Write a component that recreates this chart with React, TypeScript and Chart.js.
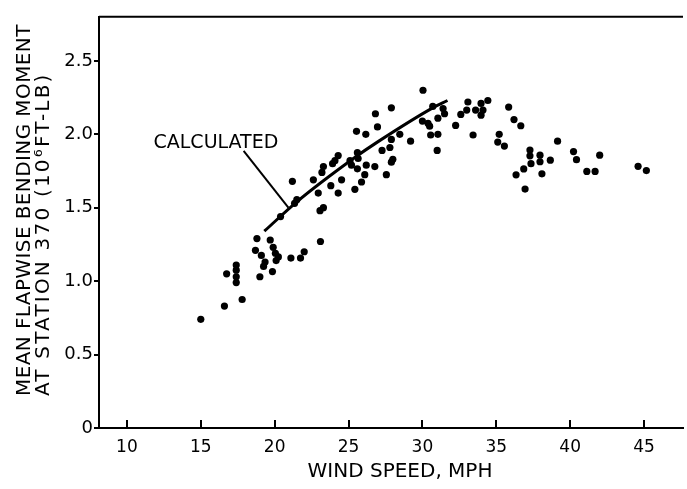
import React, { useEffect, useRef } from "react";
import { Chart, registerables } from "chart.js";

Chart.register(...registerables);

// ---- data ----
const xTicks = [10, 15, 20, 25, 30, 35, 40, 45];
const yTicks = [0, 0.5, 1, 1.5, 2, 2.5];
const yTickLabels = ["0", "0.5", "1.0", "1.5", "2.0", "2.5"];

const measuredWind = [
  15.0, 16.6, 17.8, 16.75, 17.4, 17.4, 17.4, 17.4, 18.8, 19.7, 18.7, 19.1, 19.35, 19.25, 19.0, 19.9,
  20.05, 20.25, 20.1, 19.85, 21.1, 21.75, 22.0, 23.1, 23.07, 23.3, 20.4, 21.35, 21.5, 21.2, 22.62,
  22.95, 23.2, 23.3, 23.8, 24.3, 23.92, 24.08, 24.3, 24.53, 25.1, 25.2, 25.6, 25.43, 25.6, 25.65,
  25.88, 26.1, 26.2, 26.78, 27.56, 27.27, 28.0, 27.9, 27.9, 27.8, 25.54, 26.17, 26.82, 26.96, 27.9,
  28.47, 29.2, 30.04, 30.0, 30.38, 30.49, 30.56, 31.05, 31.0, 30.7, 31.4, 31.5, 31.05, 32.25, 32.6,
  33.0, 33.08, 33.6, 33.97, 34.43, 34.1, 33.97, 33.43, 35.84, 36.2, 36.66, 35.2, 35.1, 35.55, 39.15,
  37.28, 37.28, 37.96, 37.96, 37.35, 36.86, 36.34, 36.95, 38.09, 38.66, 40.23, 40.43, 42.0, 41.13,
  41.69, 44.6, 45.16,
];
const measuredMoment = [
  0.74, 0.83, 0.875, 1.05, 1.11, 1.075, 1.03, 0.99, 1.29, 1.28, 1.21, 1.175, 1.13, 1.1, 1.03, 1.23,
  1.19, 1.165, 1.14, 1.065, 1.157, 1.157, 1.2, 1.27, 1.48, 1.5, 1.44, 1.53, 1.555, 1.68, 1.69,
  1.6, 1.74, 1.78, 1.65, 1.6, 1.8, 1.82, 1.855, 1.69, 1.82, 1.79, 1.765, 1.625, 1.875, 1.835,
  1.675, 1.725, 1.79, 1.78, 1.725, 1.89, 1.83, 1.81, 1.965, 1.91, 2.02, 2.0, 2.14, 2.05, 2.18,
  2.0, 1.953, 2.3, 2.09, 2.075, 2.055, 1.995, 2.0, 1.89, 2.19, 2.175, 2.14, 2.11, 2.06, 2.135,
  2.165, 2.22, 2.165, 2.21, 2.23, 2.165, 2.13, 1.995, 2.185, 2.1, 2.058, 2.0, 1.947, 1.92, 1.953,
  1.893, 1.853, 1.858, 1.813, 1.8, 1.764, 1.724, 1.627, 1.731, 1.824, 1.882, 1.827, 1.858, 1.747,
  1.747, 1.782, 1.753,
];

const calcWind = [19.3, 21.5, 25.4, 27.0, 30.7, 31.7];
const calcMoment = [1.34, 1.54, 1.84, 1.95, 2.18, 2.23];

const xTitle = "WIND SPEED, MPH";
const yTitleLines = ["MEAN FLAPWISE BENDING MOMENT", "AT STATION 370 (10\u2076FT-LB)"];
const calcLabel = "CALCULATED";
const calcLabelAt = [11.8, 1.907];
const leaderFrom = [17.9, 1.887];
const leaderTo = [20.93, 1.5];

const FONT = "'DejaVu Sans', sans-serif";

const decorPlugin = {
  id: "decor",
  afterDraw(chart: any) {
    const { ctx, chartArea, scales } = chart;
    const xs = scales.x;
    const ys = scales.y;
    ctx.save();
    ctx.strokeStyle = "#000";
    ctx.fillStyle = "#000";
    // top frame line
    ctx.lineWidth = 2;
    ctx.beginPath();
    ctx.moveTo(chartArea.left, chartArea.top);
    ctx.lineTo(chartArea.right, chartArea.top);
    ctx.stroke();
    // x ticks (inward)
    ctx.lineWidth = 2;
    xTicks.forEach((v) => {
      const px = Math.round(xs.getPixelForValue(v));
      ctx.beginPath();
      ctx.moveTo(px, chartArea.bottom);
      ctx.lineTo(px, chartArea.bottom - 8);
      ctx.stroke();
    });
    // y ticks (outward)
    yTicks.forEach((v) => {
      const py = Math.round(ys.getPixelForValue(v));
      ctx.beginPath();
      ctx.moveTo(chartArea.left, py);
      ctx.lineTo(chartArea.left - 5, py);
      ctx.stroke();
    });
    // x title
    ctx.font = `20px ${FONT}`;
    ctx.textAlign = "center";
    ctx.textBaseline = "alphabetic";
    ctx.fillText(xTitle, 400, 477);
    // y title lines
    const baseX = [30, 49];
    const spacing = ["0.4px", "2.2px"];
    yTitleLines.forEach((t, i) => {
      ctx.save();
      ctx.translate(baseX[i], 396);
      ctx.rotate(-Math.PI / 2);
      ctx.font = `20px ${FONT}`;
      ctx.textAlign = "left";
      ctx.textBaseline = "alphabetic";
      (ctx as any).letterSpacing = spacing[i];
      ctx.fillText(t, 0, 0);
      ctx.restore();
    });
    // calculated label + leader
    ctx.font = `19px ${FONT}`;
    ctx.textAlign = "left";
    ctx.textBaseline = "alphabetic";
    ctx.fillText(calcLabel, xs.getPixelForValue(calcLabelAt[0]), ys.getPixelForValue(calcLabelAt[1]));
    ctx.lineWidth = 2;
    ctx.beginPath();
    ctx.moveTo(xs.getPixelForValue(leaderFrom[0]), ys.getPixelForValue(leaderFrom[1]));
    ctx.lineTo(xs.getPixelForValue(leaderTo[0]), ys.getPixelForValue(leaderTo[1]));
    ctx.stroke();
    ctx.restore();
  },
};

export default function App() {
  const ref = useRef<HTMLCanvasElement>(null);
  useEffect(() => {
    const canvas = ref.current!;
    const chart = new Chart(canvas, {
      type: "scatter",
      data: {
        datasets: [
          {
            label: "Measured",
            data: measuredWind.map((x, i) => ({ x, y: measuredMoment[i] })),
            pointRadius: 3.6,
            pointBorderWidth: 0,
            pointBackgroundColor: "#000",
            showLine: false,
          },
          {
            label: "Calculated",
            type: "line",
            data: calcWind.map((x, i) => ({ x, y: calcMoment[i] })),
            borderColor: "#000",
            borderWidth: 3,
            pointRadius: 0,
            fill: false,
            cubicInterpolationMode: "monotone",
          } as any,
        ],
      },
      options: {
        responsive: false,
        animation: false,
        devicePixelRatio: 1,
        layout: { padding: { top: 8, right: 0, left: 0, bottom: 0 } },
        plugins: { legend: { display: false }, tooltip: { enabled: false } },
        scales: {
          x: {
            type: "linear",
            min: 8.11,
            max: 47.64,
            grid: { display: false, drawTicks: false },
            border: { display: true, color: "#000", width: 2 },
            afterBuildTicks: (s: any) => {
              s.ticks = xTicks.map((v) => ({ value: v }));
            },
            afterFit: (s: any) => {
              s.height = 61;
            },
            ticks: {
              color: "#000",
              font: { family: FONT, size: 17 },
              padding: 9,
              maxRotation: 0,
              autoSkip: false,
            },
          },
          y: {
            type: "linear",
            min: 0,
            max: 2.8,
            grid: { display: false, drawTicks: false },
            border: { display: true, color: "#000", width: 2 },
            afterBuildTicks: (s: any) => {
              s.ticks = yTicks.map((v) => ({ value: v }));
            },
            afterFit: (s: any) => {
              s.width = 99;
            },
            ticks: {
              color: "#000",
              font: { family: FONT, size: 18 },
              padding: 6,
              autoSkip: false,
              callback: (v: any) => {
                const i = yTicks.indexOf(Number(v));
                return i >= 0 ? yTickLabels[i] : "";
              },
            },
          },
        },
      },
      plugins: [decorPlugin],
    });
    return () => chart.destroy();
  }, []);
  return (
    <div style={{ position: "fixed", left: 0, top: 0, width: 687, height: 489, background: "#fff" }}>
      <canvas ref={ref} width={687} height={489} style={{ display: "block" }} />
    </div>
  );
}
